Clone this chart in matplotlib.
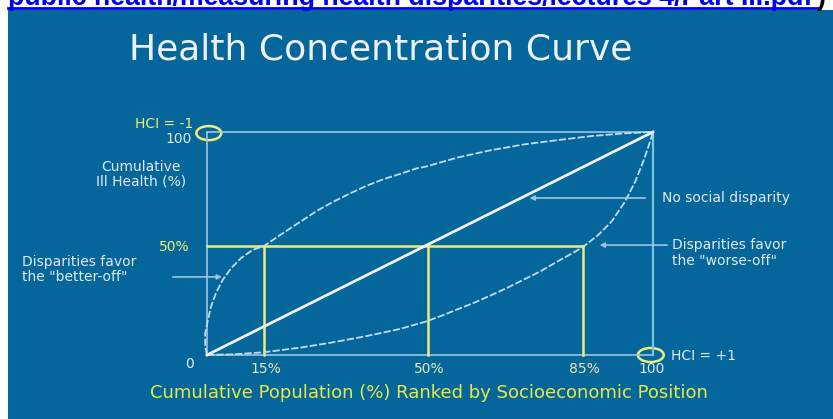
import matplotlib
matplotlib.use('Agg')
import matplotlib.pyplot as plt
from matplotlib.patches import Rectangle, Ellipse

# curves (cumulative population %, cumulative ill health %)
upper_x = [0, -0.4, -0.4, 0.2, 0.9, 2.0, 3.5, 5.4, 7.6, 10.2, 12.8, 17.0, 21.5, 24.6, 28.3,
           32.1, 35.8, 39.5, 43.3, 47.0, 48.9, 56.3, 63.8, 71.3, 78.8, 86.3, 93.7, 100]
upper_y = [0, 3.7, 9.7, 15.7, 21.7, 27.7, 33.6, 38.9, 43.4, 47.1, 48.9, 54.6, 60.5, 64.6, 68.7,
           72.5, 75.9, 78.8, 81.2, 83.7, 84.4, 88.6, 91.9, 94.5, 96.4, 98.2, 99.4, 100]
lower_x = [0, 5.9, 12.6, 20.9, 28.3, 35.8, 43.3, 48.9, 52.6, 56.3, 60.1, 63.8, 67.6, 71.3,
           75.0, 78.8, 82.5, 84.4, 87.7, 90.7, 93.7, 96.0, 97.8, 99.1, 100]
lower_y = [0, 0.3, 1.2, 3.3, 5.7, 8.5, 11.7, 14.9, 17.6, 20.6, 23.6, 26.9, 30.4, 34.1,
           37.8, 42.2, 46.3, 48.6, 53.8, 59.8, 68.7, 77.7, 86.7, 94.2, 100]
equal_x = [0, 100]
equal_y = [0, 100]

# guide lines at the half level, as drawn on the slide
guide_x = [12.8, 49.6, 84.3]
guide_labels = ['15%', '50%', '85%']
half_level = 48.9

BLUE = '#04669a'
BOX = '#9cc3e6'
CURVE = '#c4dbee'
YELLOW = '#eeee78'
LIGHT = '#e2eaf2'

W, H = 833, 419
fig = plt.figure(figsize=(W / 100, H / 100), dpi=100)
fig.patch.set_facecolor('white')

# slide background
bg = fig.add_axes([0, 0, 1, 1], zorder=-1)
bg.set_xlim(0, W)
bg.set_ylim(H, 0)
bg.axis('off')
bg.add_patch(Rectangle((8, 10), W - 8, H - 10, facecolor=BLUE, edgecolor='none'))

# link text cut off at the top
bg.text(8, 5, 'public health/measuring health disparities/lectures 4/Part III.pdf',
        color='#0000ee', fontsize=19.3, fontweight='bold', family='Liberation Sans',
        va='baseline', ha='left', clip_on=False)
bg.text(817, 5, ')', color='black', fontsize=19.3, fontweight='bold',
        family='Liberation Sans', va='baseline', ha='left', clip_on=False)
bg.plot([8, 818], [8, 8], color='#0000ee', lw=2)

bg.text(381, 50, 'Health Concentration Curve', color='#eef2f6', fontsize=26,
        family='DejaVu Sans', ha='center', va='center')

ax = fig.add_axes([207 / W, (H - 355) / H, 446 / W, 223 / H])
ax.set_xlim(0, 100)
ax.set_ylim(0, 100)
ax.axis('off')

# frame
ax.plot([0, 0], [0, 100], color=BOX, lw=1.2, clip_on=False)
ax.plot([0, 100], [100, 100], color=BOX, lw=1.2, clip_on=False)
ax.plot([0, 100], [0, 0], color=BOX, lw=1.2, clip_on=False)
ax.plot([100, 100], [0, 100], color='#78c6da', lw=1.6, clip_on=False)

# yellow guides
ax.plot([0, guide_x[-1]], [half_level, half_level], color=YELLOW, lw=1.8, clip_on=False)
for gx in guide_x:
    ax.plot([gx, gx], [0, half_level], color=YELLOW, lw=1.8, clip_on=False)

# curves
ax.plot(upper_x, upper_y, color=CURVE, lw=1.3, ls=(0, (4, 1.2)), clip_on=False)
ax.plot(lower_x, lower_y, color=CURVE, lw=1.3, ls=(0, (4, 1.2)), clip_on=False)
ax.plot(equal_x, equal_y, color='#f2f6fa', lw=2, clip_on=False)

# HCI markers
ax.add_patch(Ellipse((0.4, 99.5), 5.6, 6.3, fill=False, edgecolor=YELLOW, lw=1.8, clip_on=False))
ax.add_patch(Ellipse((99.5, 0), 5.8, 6.3, fill=False, edgecolor=YELLOW, lw=1.8, clip_on=False))

small = dict(fontsize=10, family='DejaVu Sans', clip_on=False)
ax.text(-3.1, 103.6, 'HCI = -1', color=YELLOW, ha='right', va='center', **small)
ax.text(-3.4, 96.9, '100', color=LIGHT, ha='right', va='center', **small)
ax.text(-14.8, 84.3, 'Cumulative', color=LIGHT, ha='center', va='center', **small)
ax.text(-14.8, 77.6, 'Ill Health (%)', color=LIGHT, ha='center', va='center', **small)
ax.text(-3.8, 48.4, '50%', color=YELLOW, ha='right', va='center', **small)
ax.text(-41.5, 41.7, 'Disparities favor', color=LIGHT, ha='left', va='center', **small)
ax.text(-41.5, 35.0, 'the "better-off"', color=LIGHT, ha='left', va='center', **small)
ax.text(102.0, 70.4, 'No social disparity', color=LIGHT, ha='left', va='center', **small)
ax.text(104.3, 49.3, 'Disparities favor', color=LIGHT, ha='left', va='center', **small)
ax.text(104.3, 42.2, 'the "worse-off"', color=LIGHT, ha='left', va='center', **small)
ax.text(104.0, -0.4, 'HCI = +1', color=LIGHT, ha='left', va='center', **small)
ax.text(-4.0, -4.0, '0', color=LIGHT, ha='center', va='center', **small)
for gx, lab in zip(guide_x, guide_labels):
    ax.text(gx + 0.3, -6.3, lab, color='#e8e8b0', ha='center', va='center', **small)
ax.text(99.8, -6.3, '100', color=LIGHT, ha='center', va='center', **small)

arrow = dict(arrowstyle='-|>', color=BOX, lw=1.2, mutation_scale=7)
ax.annotate('', xy=(4.0, 35.0), xytext=(-8.3, 35.0), arrowprops=arrow, annotation_clip=False)
ax.annotate('', xy=(71.7, 70.4), xytext=(98.9, 70.4), arrowprops=arrow, annotation_clip=False)
ax.annotate('', xy=(87.4, 49.3), xytext=(103.8, 49.3), arrowprops=arrow, annotation_clip=False)

ax.text(49.8, -17.0, 'Cumulative Population (%) Ranked by Socioeconomic Position',
        color='#e8e84a', ha='center', va='center', fontsize=13, family='DejaVu Sans',
        clip_on=False)

fig.savefig('out.png', dpi=100, facecolor=fig.get_facecolor())
